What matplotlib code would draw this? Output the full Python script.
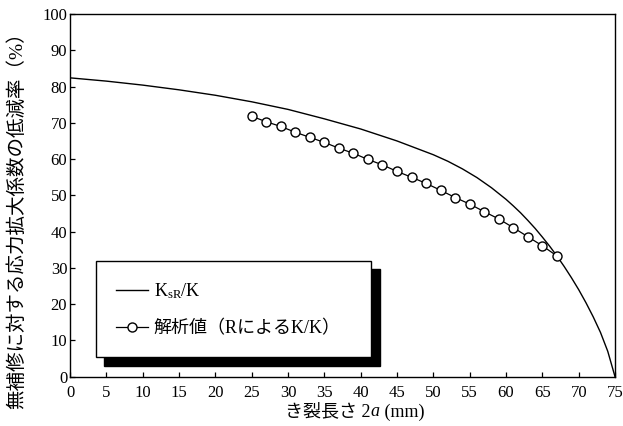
import matplotlib
matplotlib.use("Agg")
import matplotlib.pyplot as plt
from matplotlib.offsetbox import TextArea, HPacker, AnnotationBbox

plt.rcParams['font.family'] = ['Liberation Serif', 'Noto Sans CJK JP']
plt.rcParams['mathtext.fontset'] = 'custom'
plt.rcParams['mathtext.rm'] = 'Liberation Serif'
plt.rcParams['mathtext.it'] = 'Liberation Serif:italic'

# K_sR/K curve (crack length 2a in mm, reduction ratio in %)
curve_x = [0, 5, 10, 15, 20, 25, 30, 35, 40, 45, 50, 52, 54, 56, 58, 60, 61,
           62, 63, 64, 65, 66, 67, 68, 69, 70, 71, 72, 73, 74, 75]
curve_y = [82.4, 81.5, 80.4, 79.1, 77.6, 75.8, 73.7, 71.1, 68.3, 65.0, 61.2,
           59.4, 57.3, 54.9, 52.1, 48.9, 47.1, 45.2, 43.1, 40.9, 38.5, 36.0,
           33.3, 30.4, 27.3, 24.0, 20.4, 16.5, 12.2, 7.0, 0.0]

# Analysis results (K reduced by R)
ana_x = [25, 27, 29, 31, 33, 35, 37, 39, 41, 43, 45, 47, 49, 51, 53, 55, 57,
         59, 61, 63, 65, 67]
ana_y = [71.8, 70.3, 69.0, 67.4, 66.0, 64.6, 63.0, 61.6, 59.9, 58.4, 56.6,
         55.0, 53.3, 51.4, 49.4, 47.6, 45.5, 43.5, 41.1, 38.6, 36.1, 33.3]

x_ticks = list(range(0, 80, 5))
y_ticks = list(range(0, 110, 10))

fig = plt.figure(figsize=(6.23, 4.26), dpi=100)
ax = fig.add_axes([0.1124, 0.1157, 0.8748, 0.8514])

ax.plot(curve_x, curve_y, color='black', lw=1.0, label=r'K$_{\rm sR}$/K')
ax.plot(ana_x, ana_y, color='black', lw=0.9, marker='o', ms=6.5,
        mfc='white', mec='black', mew=1.0, label='解析値（RによるK/K）')

ax.set_xlim(0, 75)
ax.set_ylim(0, 100)
ax.set_xticks(x_ticks)
ax.set_yticks(y_ticks)
ax.tick_params(direction='in', length=3.5, width=0.9, labelsize=12,
               colors='black')
ax.tick_params(axis='x', pad=6)
ax.tick_params(axis='y', pad=2)
for s in ax.spines.values():
    s.set_linewidth(1.0)

# x-axis label with an italic "a"
label_parts = [
    TextArea('き裂長さ 2', textprops=dict(fontsize=13)),
    TextArea('a', textprops=dict(fontsize=13, style='italic')),
    TextArea(' (mm)', textprops=dict(fontsize=13)),
]
xlabel_box = HPacker(children=label_parts, align='baseline', pad=0, sep=0)
ax.add_artist(AnnotationBbox(xlabel_box, (0.522, -0.097),
                             xycoords='axes fraction', frameon=False,
                             box_alignment=(0.5, 0.5), pad=0,
                             annotation_clip=False))

ax.set_ylabel('無補修に対する応力拡大係数の低減率（%）', fontsize=14)
ax.yaxis.set_label_coords(-0.08, 0.445)

leg = ax.legend(loc='upper left', bbox_to_anchor=(0.0477, 0.062, 0.505, 0.257),
                mode='expand', fancybox=False, frameon=True, fontsize=13,
                handlelength=1.8, handletextpad=0.3, borderpad=1.1,
                labelspacing=1.1, borderaxespad=0,
                shadow={'ox': 6, 'oy': -6, 'color': 'black', 'alpha': 1})
leg.get_frame().set_edgecolor('black')
leg.get_frame().set_linewidth(1.0)

fig.savefig('out.png', dpi=100)
